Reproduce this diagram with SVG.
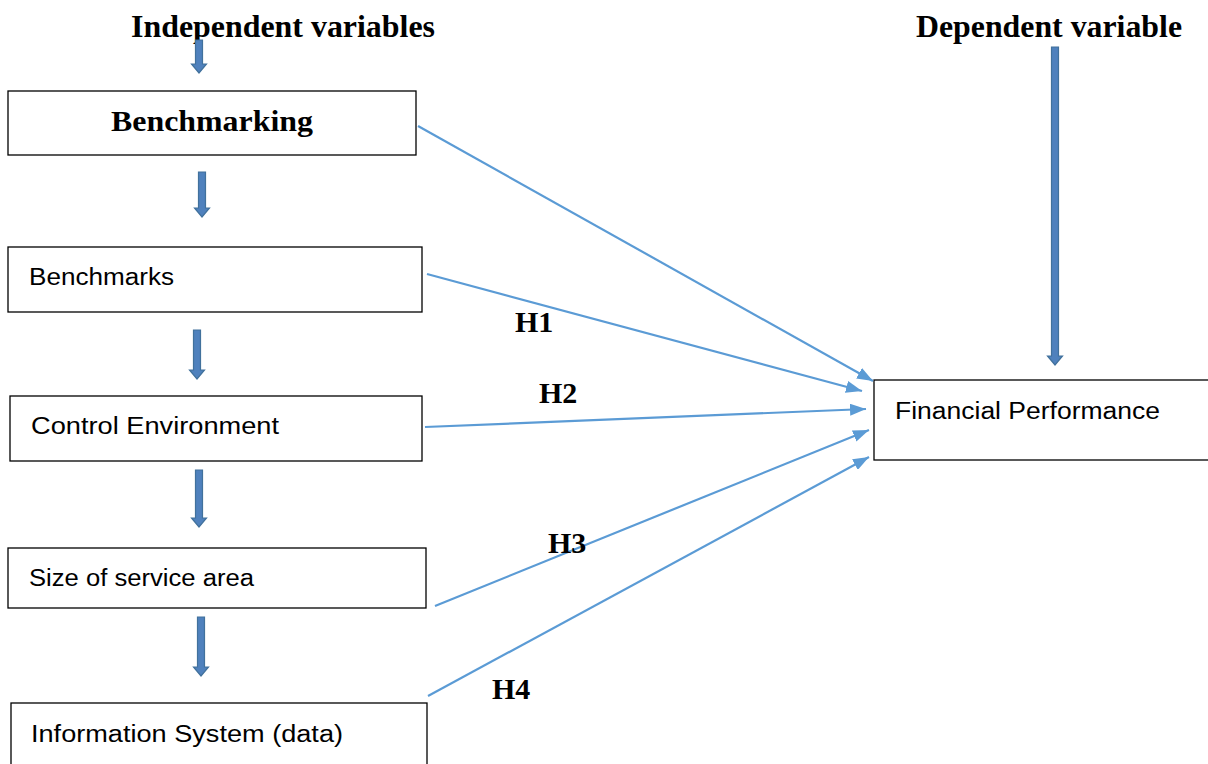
<svg xmlns="http://www.w3.org/2000/svg" width="1208" height="764" viewBox="0 0 1208 764">
<defs>
<style>
.box{fill:#fff;stroke:#000;stroke-width:1.3}
.lbl{font-family:"Liberation Sans",Arial,sans-serif;font-size:23px;fill:#000}
.hd{font-family:"Liberation Serif","Times New Roman",serif;font-weight:bold;fill:#000}
.conn{stroke:#5B9BD5;stroke-width:2.2;fill:none}
.blk{fill:#4F81BD;stroke:#41719C;stroke-width:1.2}
</style>
<marker id="ah" viewBox="0 0 16 12" refX="16" refY="6" markerWidth="16" markerHeight="12" markerUnits="userSpaceOnUse" orient="auto">
<path d="M0,0 L16,6 L0,12 Z" fill="#5B9BD5"/>
</marker>
</defs>
<rect width="1208" height="764" fill="#fff"/>
<text class="hd" x="131" y="37" font-size="31" textLength="304" lengthAdjust="spacingAndGlyphs">Independent variables</text>
<text class="hd" x="916" y="37" font-size="31" textLength="266" lengthAdjust="spacingAndGlyphs">Dependent variable</text>
<g id="n-benchmarking"><rect class="box" x="8" y="91" width="408" height="64"/><text class="hd" x="111" y="131" font-size="30" textLength="202" lengthAdjust="spacingAndGlyphs">Benchmarking</text></g>
<g id="n-benchmarks"><rect class="box" x="8" y="247" width="414" height="65"/><text class="lbl" x="29" y="285" textLength="145" lengthAdjust="spacingAndGlyphs">Benchmarks</text></g>
<g id="n-control"><rect class="box" x="10" y="396" width="412" height="65"/><text class="lbl" x="31" y="434" textLength="248" lengthAdjust="spacingAndGlyphs">Control Environment</text></g>
<g id="n-size"><rect class="box" x="8" y="548" width="418" height="60"/><text class="lbl" x="29" y="586" textLength="225" lengthAdjust="spacingAndGlyphs">Size of service area</text></g>
<g id="n-info"><rect class="box" x="11" y="703" width="416" height="70"/><text class="lbl" x="31" y="742" textLength="312" lengthAdjust="spacingAndGlyphs">Information System (data)</text></g>
<g id="n-financial"><rect class="box" x="874" y="380" width="345" height="80"/><text class="lbl" x="895" y="419" textLength="265" lengthAdjust="spacingAndGlyphs">Financial Performance</text></g>
<g id="connectors">
<line class="conn" x1="418" y1="126" x2="873" y2="381" marker-end="url(#ah)"/>
<line class="conn" x1="427" y1="274" x2="862" y2="391" marker-end="url(#ah)"/>
<line class="conn" x1="425" y1="427" x2="866" y2="409" marker-end="url(#ah)"/>
<line class="conn" x1="435" y1="606" x2="869" y2="430" marker-end="url(#ah)"/>
<line class="conn" x1="428" y1="696" x2="869" y2="457" marker-end="url(#ah)"/>
<path class="blk" d="M195.5,40 H202.5 V64 H206.5 L199,73 L191.5,64 H195.5 Z"/>
<path class="blk" d="M198.5,172 H205.5 V208 H209.5 L202,217 L194.5,208 H198.5 Z"/>
<path class="blk" d="M193.5,330 H200.5 V370 H204.5 L197,379 L189.5,370 H193.5 Z"/>
<path class="blk" d="M195.5,470 H202.5 V518 H206.5 L199,527 L191.5,518 H195.5 Z"/>
<path class="blk" d="M197.5,617 H204.5 V667 H208.5 L201,676 L193.5,667 H197.5 Z"/>
<path class="blk" d="M1051.5,47 H1058.5 V356 H1062.5 L1055,365 L1047.5,356 H1051.5 Z"/>
</g>
<text class="hd" x="515" y="332" font-size="30">H1</text>
<text class="hd" x="539" y="403" font-size="30">H2</text>
<text class="hd" x="548" y="553" font-size="30">H3</text>
<text class="hd" x="492" y="699" font-size="30">H4</text>
</svg>
